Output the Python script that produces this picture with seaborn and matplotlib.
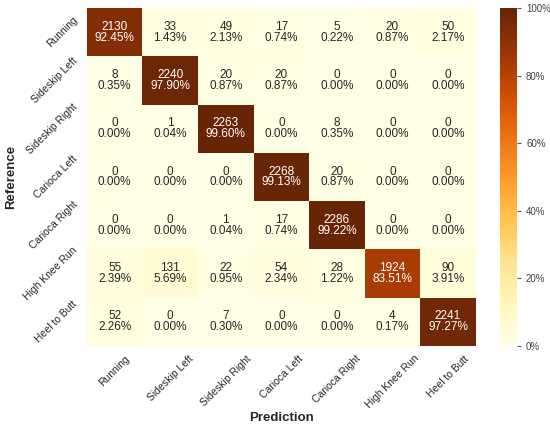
import numpy as np
import pandas as pd
import seaborn as sns
import matplotlib.pyplot as plt

classes = ["Running", "Sideskip Left", "Sideskip Right", "Carioca Left",
           "Carioca Right", "High Knee Run", "Heel to Butt"]

# counts per reference row (rows = reference, cols = prediction)
running = [2130, 33, 49, 17, 5, 20, 50]
sideskip_left = [8, 2240, 20, 20, 0, 0, 0]
sideskip_right = [0, 1, 2263, 0, 8, 0, 0]
carioca_left = [0, 0, 0, 2268, 20, 0, 0]
carioca_right = [0, 0, 1, 17, 2286, 0, 0]
high_knee_run = [55, 131, 22, 54, 28, 1924, 90]
heel_to_butt = [52, 0, 7, 0, 0, 4, 2241]

counts = np.array([running, sideskip_left, sideskip_right, carioca_left,
                   carioca_right, high_knee_run, heel_to_butt])
pct = counts / counts.sum(axis=1, keepdims=True) * 100
cm = pd.DataFrame(pct, index=classes, columns=classes)

labels = np.array([[f"{c}\n{p:.2f}%" for c, p in zip(rc, rp)]
                   for rc, rp in zip(counts, pct)])

sns.set_style("white")
plt.rcParams['font.family'] = ['Liberation Sans', 'DejaVu Sans']

fig = plt.figure(figsize=(5.5, 4.26), dpi=100)
ax = fig.add_axes([0.158, 0.188, 0.707, 0.793])
cax = fig.add_axes([0.909, 0.188, 0.031, 0.793])

sns.heatmap(cm, annot=labels, fmt="", cmap="YlOrBr", vmin=0, vmax=100,
            ax=ax, cbar_ax=cax, annot_kws={"size": 8.5, "linespacing": 0.85},
            cbar_kws={"format": "%d%%"})
cax.tick_params(labelsize=7, length=3, color="#555555", labelcolor="#444444")
cax.set_yticks([0, 20, 40, 60, 80, 100])

ax.set_xticklabels(classes, rotation=45, fontsize=7.5)
ax.set_yticklabels(classes, rotation=45, fontsize=7.5, ha="right")
ax.tick_params(axis="both", pad=2)
ax.set_xlabel("Prediction", fontsize=9.5, fontweight="bold", labelpad=1)
ax.set_ylabel("Reference", fontsize=9.5, fontweight="bold", labelpad=4)

plt.savefig("out.png", dpi=100)
